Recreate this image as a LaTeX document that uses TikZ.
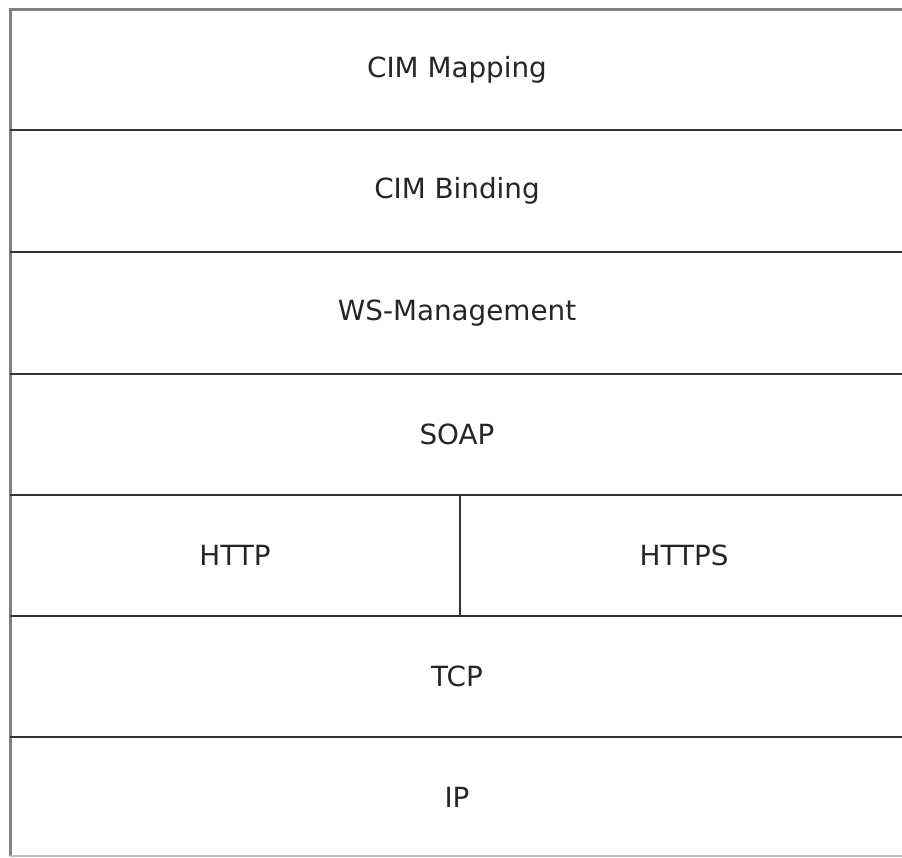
\documentclass[tikz,border=0pt]{standalone}
\usepackage{fontspec}
\setmainfont{DejaVu Sans}
\begin{document}
\begin{tikzpicture}[x=1pt,y=-1pt,
  outer/.style={draw=black!50,line width=3pt},
  divider/.style={draw=black!80,line width=2.6pt},
  lbl/.style={font=\fontsize{27.8}{32}\selectfont,text=black!85,anchor=center}]
\useasboundingbox (0,0) rectangle (902,857);
\fill[white] (0,0) rectangle (902,857);
% coordinates
\coordinate (tl) at (10,9);
\coordinate (tr) at (906,9);
\coordinate (bl) at (10,856);
\coordinate (br) at (906,856);
% outer border
\draw[outer] (tr) -- (tl) -- (bl);
\draw[draw=black!25,line width=2pt] (bl) -- (br);
% dividers
\foreach \y/\n in {130/a,252/b,374/c,495/d,616/e,737/f}{
  \coordinate (L\n) at (10,\y);
  \coordinate (R\n) at (906,\y);
  \draw[divider] (L\n) -- (R\n);
}
\coordinate (vt) at (460,495);
\coordinate (vb) at (460,616);
\draw[divider] (vt) -- (vb);
% labels
\node[lbl] (cimmap) at (457,70) {CIM Mapping};
\node[lbl] (cimbind) at (457,191) {CIM Binding};
\node[lbl] (wsman) at (457,313) {WS-Management};
\node[lbl] (soap) at (457,434) {SOAP};
\node[lbl] (http) at (235,555) {HTTP};
\node[lbl] (https) at (684,555) {HTTPS};
\node[lbl] (tcp) at (457,676) {TCP};
\node[lbl] (ip) at (457,797) {IP};
\end{tikzpicture}
\end{document}
